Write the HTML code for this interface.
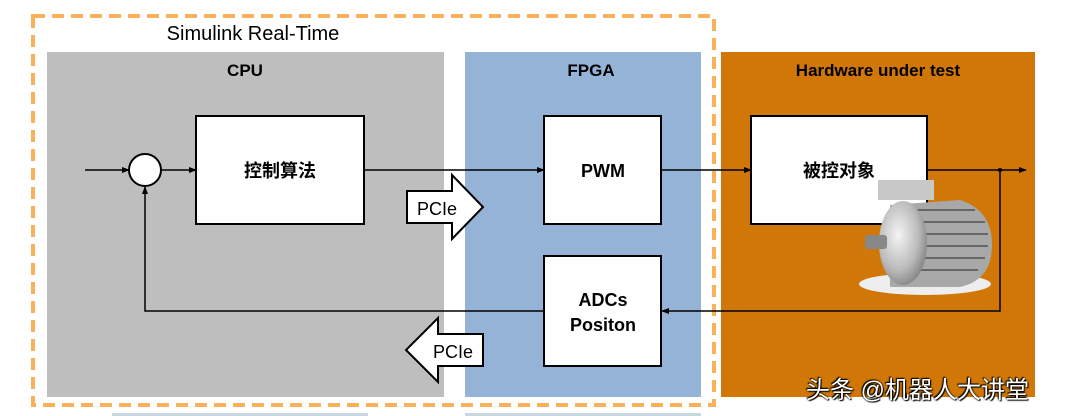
<!DOCTYPE html>
<html><head><meta charset="utf-8"><style>
body{margin:0;width:1080px;height:416px;background:#fff;overflow:hidden;position:relative;font-family:"Liberation Sans","Noto Sans CJK SC",sans-serif}
</style></head><body>
<svg width="1080" height="416" style="position:absolute;left:0;top:0" font-family="Liberation Sans, Noto Sans CJK SC, sans-serif">
<defs>
<marker id="a" markerWidth="8" markerHeight="8" refX="7" refY="4" orient="auto" markerUnits="userSpaceOnUse"><path d="M0,1 L8,4 L0,7 z" fill="#000"/></marker>
<radialGradient id="m" cx="0.4" cy="0.4" r="0.7"><stop offset="0" stop-color="#f4f4f4"/><stop offset="0.6" stop-color="#bbb"/><stop offset="1" stop-color="#777"/></radialGradient>
</defs>
<rect x="47" y="52" width="397" height="345" fill="#bebebe"/>
<rect x="465" y="52" width="236" height="345" fill="#95b3d7"/>
<rect x="721" y="52" width="314" height="345" fill="#d07708"/>
<rect x="33" y="16" width="681" height="389" fill="none" stroke="#fbb15a" stroke-width="4" stroke-dasharray="12,7"/>
<rect x="112" y="413" width="256" height="3" fill="#c8d8e0"/>
<rect x="465" y="413" width="236" height="3" fill="#c8d8e0"/>
<text x="253" y="40" font-size="20" text-anchor="middle">Simulink Real-Time</text>
<text x="245" y="76" font-size="17" font-weight="bold" text-anchor="middle">CPU</text>
<text x="591" y="76" font-size="17" font-weight="bold" text-anchor="middle">FPGA</text>
<text x="878" y="76" font-size="17" font-weight="bold" text-anchor="middle">Hardware under test</text>
<g stroke="#000" stroke-width="1.5" fill="none">
<line x1="85" y1="170" x2="129" y2="170" marker-end="url(#a)"/>
<line x1="161" y1="170" x2="196" y2="170" marker-end="url(#a)"/>
<line x1="364" y1="170" x2="544" y2="170" marker-end="url(#a)"/>
<line x1="661" y1="170" x2="751" y2="170" marker-end="url(#a)"/>
<line x1="927" y1="170" x2="1026" y2="170" marker-end="url(#a)"/>
<polyline points="1000,170 1000,311 662,311" marker-end="url(#a)"/>
<polyline points="544,311 145,311 145,187" marker-end="url(#a)"/>
</g>
<circle cx="1000" cy="170" r="2" fill="#000"/>
<circle cx="145" cy="170" r="16" fill="#fff" stroke="#000" stroke-width="2"/>
<rect x="196" y="116" width="168" height="108" fill="#fff" stroke="#000" stroke-width="2"/>
<rect x="544" y="116" width="117" height="108" fill="#fff" stroke="#000" stroke-width="2"/>
<rect x="544" y="256" width="117" height="110" fill="#fff" stroke="#000" stroke-width="2"/>
<rect x="751" y="116" width="176" height="108" fill="#fff" stroke="#000" stroke-width="2"/>
<text x="280" y="177" font-size="18" font-weight="bold" text-anchor="middle">控制算法</text>
<text x="603" y="177" font-size="18" font-weight="bold" text-anchor="middle">PWM</text>
<text x="603" y="306" font-size="18" font-weight="bold" text-anchor="middle">ADCs</text>
<text x="603" y="331" font-size="18" font-weight="bold" text-anchor="middle">Positon</text>
<text x="839" y="177" font-size="18" font-weight="bold" text-anchor="middle">被控对象</text>
<path d="M407,191 H452 V175 L483,207 L452,239 V223 H407 Z" fill="#fff" stroke="#000" stroke-width="2"/>
<text x="437" y="215" font-size="18" text-anchor="middle">PCIe</text>
<path d="M483,334 H438 V318 L406,350 L438,382 V366 H483 Z" fill="#fff" stroke="#000" stroke-width="2"/>
<text x="453" y="358" font-size="18" text-anchor="middle">PCIe</text>
<!-- motor -->
<ellipse cx="925" cy="284" rx="66" ry="11" fill="#eeeeee"/>
<rect x="878" y="180" width="56" height="20" fill="#c8c8c8"/>
<path d="M890,205 L960,200 Q992,210 992,245 Q992,280 960,287 L890,287 Z" fill="#a8a8a8"/>
<g stroke="#666" stroke-width="2">
<line x1="905" y1="210" x2="975" y2="210"/><line x1="905" y1="222" x2="985" y2="222"/><line x1="905" y1="234" x2="988" y2="234"/><line x1="905" y1="246" x2="988" y2="246"/><line x1="905" y1="258" x2="985" y2="258"/><line x1="905" y1="270" x2="978" y2="270"/></g>
<ellipse cx="903" cy="243" rx="24" ry="42" fill="url(#m)"/>
<rect x="865" y="235" width="22" height="14" rx="3" fill="#888"/>
</svg>
<div style="position:absolute;left:806px;top:370px;font-size:24px;color:#fff;font-family:'Liberation Sans','Noto Sans CJK SC',sans-serif;text-shadow:0 0 2px #000,1px 1px 1px #000,-1px -1px 1px #000;white-space:nowrap">头条 @机器人大讲堂</div>
</body></html>
